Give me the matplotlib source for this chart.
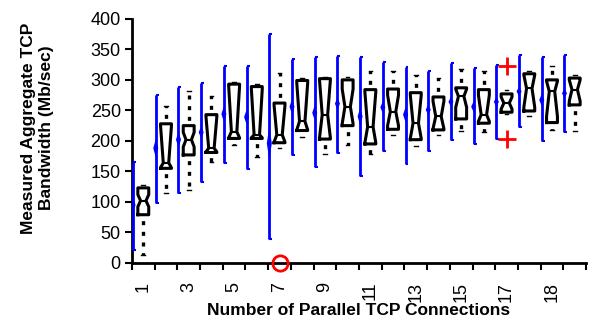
import matplotlib
matplotlib.use("Agg")
import matplotlib.pyplot as plt
import numpy as np

plt.rcParams['font.family'] = ['Liberation Sans', 'DejaVu Sans']

# ---- data ----
slots = list(range(1, 21))
tick_label_pos = [1, 3, 5, 7, 9, 11, 13, 15, 17, 19]
tick_labels = ['1', '3', '5', '7', '9', '11', '13', '15', '17', '18']

# blue mean / range series
mean_val = [95, 188, 202, 214, 244, 239, 196, 256, 246, 261,
            240, 255, 243, 251, 264, 256, 264, 281, 267, 278]
range_lo = [22, 99, 115, 133, 163, 154, 39, 177, 158, 180,
            142, 183, 162, 184, 202, 195, 203, 222, 199, 215]
range_hi = [166, 275, 288, 295, 323, 323, 375, 335, 337, 339,
            338, 329, 321, 315, 327, 319, 325, 341, 338, 341]
mean_ci = [12, 15, 13, 10, 13, 12, 27, 12, 12, 10,
           14, 10, 12, 9, 8, 9, 8, 8, 10, 8]

# box plot statistics
q1 = [79, 155, 177, 181, 204, 204, 197, 217, 203, 225,
      195, 219, 202, 218, 236, 229, 247, 249, 230, 259]
med = [102, 164, 202, 188, 215, 210, 210, 232, 243, 256,
       223, 248, 229, 240, 273, 243, 262, 286, 281, 284]
q3 = [123, 228, 225, 243, 293, 289, 262, 299, 302, 300,
      284, 285, 279, 272, 287, 284, 277, 310, 300, 303]
cilo = [92, 156, 190, 182, 205, 205, 198, 218, 205, 228,
        197, 225, 204, 220, 255, 232, 252, 255, 240, 265]
cihi = [112, 225, 214, 240, 290, 285, 258, 295, 300, 285,
        280, 275, 275, 265, 285, 275, 272, 308, 298, 300]
whislo = [13, 114, 120, 166, 193, 174, 188, 207, 179, 193,
          179, 210, 191, 210, 216, 214, 244, 240, 218, 217]
whishi = [128, 257, 281, 273, 297, 293, 312, 303, 305, 304,
          314, 314, 308, 303, 318, 314, 283, 314, 323, 308]

# outliers
circle_x = [7]
circle_y = [0]
plus_x = [17, 17]
plus_y = [322, 203]

# ---- figure ----
fig = plt.figure(figsize=(5.89, 3.25), dpi=100)
ax = fig.add_axes([0.224, 0.191, 0.771, 0.751])

blue = '#0000ff'
off = 0.45
xb = np.array(slots) - off

# blue range lines
ax.vlines(xb, range_lo, range_hi, color=blue, lw=2, zorder=3)
ax.hlines(range_lo, xb, xb + 0.13, color=blue, lw=1.5, zorder=3)
ax.hlines(range_hi, xb, xb + 0.13, color=blue, lw=1.5, zorder=3)
# diamonds at mean
dw = 0.11
for x, m, h in zip(xb, mean_val, mean_ci):
    ax.fill([x - dw, x, x + dw, x], [m, m + h, m, m - h], color=blue, lw=0, zorder=4)

stats = []
for i in range(len(slots)):
    stats.append(dict(med=med[i], q1=q1[i], q3=q3[i], whislo=whislo[i],
                      whishi=whishi[i], cilo=cilo[i], cihi=cihi[i], fliers=[]))

ax.bxp(stats, positions=slots, widths=0.48, shownotches=True, showfliers=False,
       capwidths=0.16, manage_ticks=False,
       boxprops=dict(color='black', lw=2.2),
       whiskerprops=dict(color='black', lw=2.4, linestyle=(1.5, (1.2, 2.0))),
       capprops=dict(color='black', lw=1),
       medianprops=dict(color='black', lw=1.5))

ax.plot(circle_x, circle_y, 'o', mfc='none', mec='red', mew=2, ms=11,
        clip_on=False, zorder=6)
ax.plot(plus_x, plus_y, '+', color='red', mew=2, ms=13, clip_on=False, zorder=6)

ax.set_xlim(0.5, 20.5)
ax.set_ylim(0, 400)
ax.set_yticks(range(0, 401, 50))
ax.set_xticks(np.arange(0.5, 20.6, 1.0))
ax.set_xticklabels([])
ax.set_xticks(tick_label_pos, minor=True)
ax.set_xticklabels(tick_labels, minor=True, rotation=90)
ax.tick_params(axis='x', which='minor', length=0, labelsize=13, pad=13.5)
ax.tick_params(axis='x', which='major', length=5, width=1.5, direction='out')
ax.tick_params(axis='y', length=5, width=1.5, labelsize=13, pad=3)

for s in ['top', 'right']:
    ax.spines[s].set_visible(False)
for s in ['left', 'bottom']:
    ax.spines[s].set_linewidth(2)

ax.set_xlabel('Number of Parallel TCP Connections', fontsize=12.5,
              fontweight='bold', labelpad=1)
ax.set_ylabel('Measured Aggregate TCP\nBandwidth (Mb/sec)', fontsize=12.5,
              fontweight='bold')
ax.yaxis.set_label_coords(-0.172, 0.553)

fig.savefig('out.png', dpi=100)
